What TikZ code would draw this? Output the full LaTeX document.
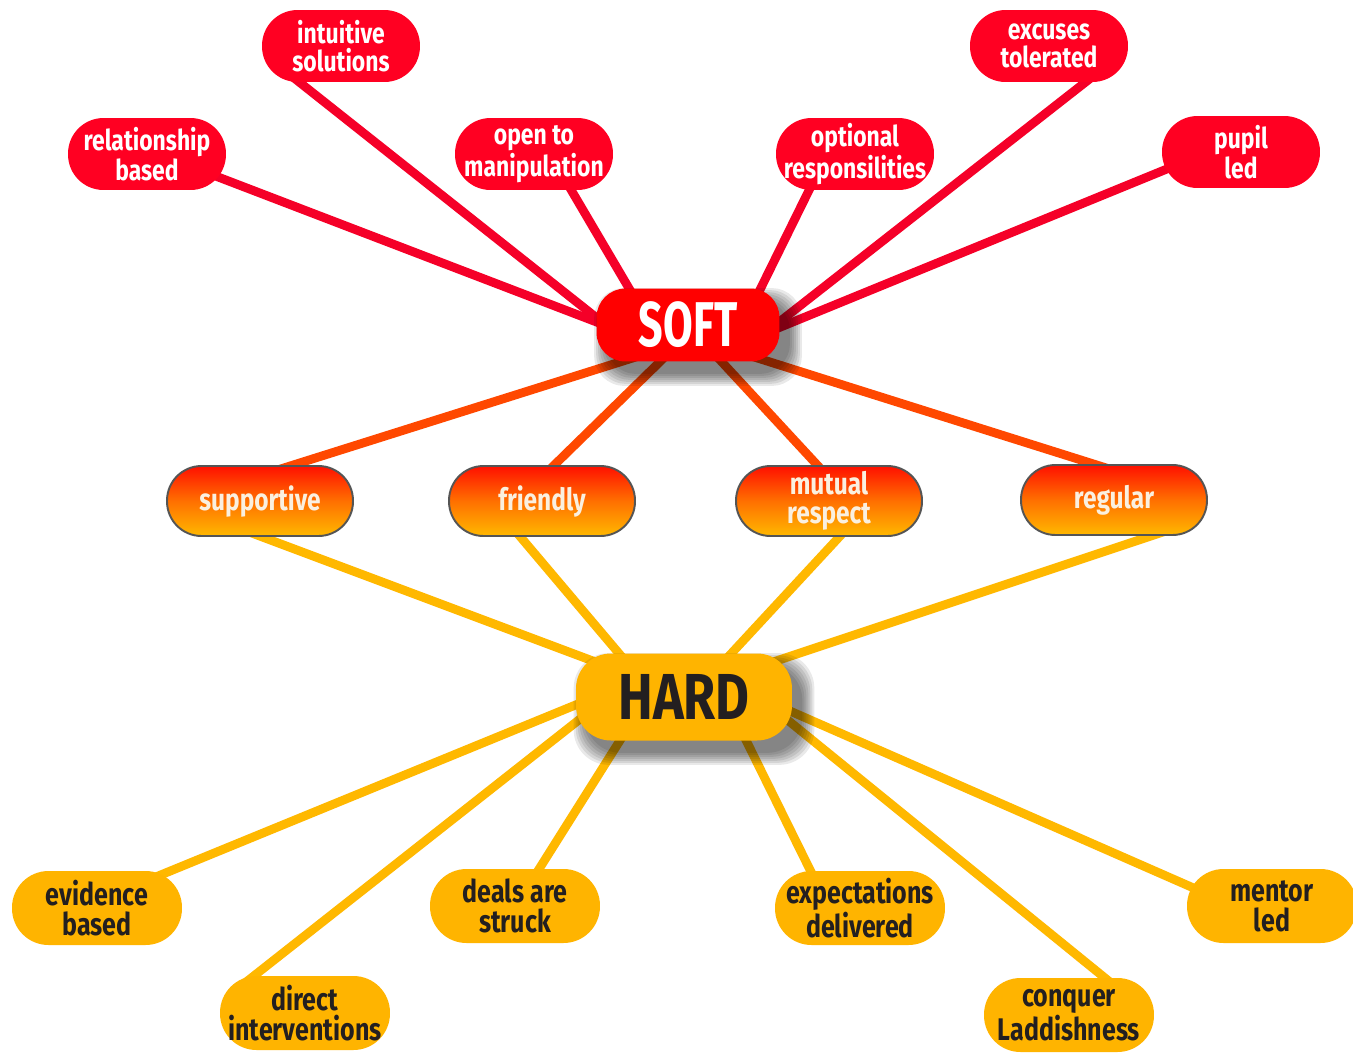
\documentclass[tikz,border=0pt]{standalone}
\usepackage{fontspec}
\setmainfont{Fira Sans}[FakeStretch=0.8]
\newfontfamily\narrowfont{Fira Sans}[FakeStretch=0.68]
\usetikzlibrary{calc}
\pgfdeclarelayer{background}
\pgfdeclarelayer{bottomlayer}
\pgfdeclarelayer{shadowlayer}
\pgfsetlayers{bottomlayer,background,shadowlayer,main}
\definecolor{leafred}{RGB}{255,0,34}
\definecolor{softred}{RGB}{255,0,0}
\definecolor{redline}{RGB}{245,0,40}
\definecolor{orangeline}{RGB}{255,72,0}
\definecolor{hardyellow}{RGB}{255,180,0}
\definecolor{yellowline}{RGB}{255,184,0}
\definecolor{darktext}{RGB}{35,31,32}
\definecolor{midtext}{RGB}{250,240,224}
\definecolor{midborder}{RGB}{85,85,85}
\definecolor{gradtop}{RGB}{255,16,0}
\definecolor{gradmid}{RGB}{255,112,0}
\definecolor{gradbot}{RGB}{255,184,0}
\begin{document}
\begin{tikzpicture}[x=0.02cm,y=-0.02cm,
  leaf/.style={rectangle, rounded corners=0.71cm, fill=leafred, text=white,
    minimum width=3.16cm, minimum height=1.44cm, inner sep=0pt, align=center,
    font=\bfseries\fontsize{16.3}{15.6}\selectfont},
  hubsoft/.style={rectangle, rounded corners=0.58cm, fill=softred, text=white,
    minimum width=3.66cm, minimum height=1.46cm, inner sep=0pt,
    font=\narrowfont\bfseries\fontsize{36}{40}\selectfont},
  hubhard/.style={rectangle, rounded corners=0.7cm, fill=hardyellow, text=darktext,
    minimum width=4.32cm, minimum height=1.74cm, inner sep=0pt,
    font=\bfseries\fontsize{37}{40}\selectfont},
  midnode/.style={rectangle, rounded corners=0.69cm, draw=midborder, line width=1.1pt,
    top color=gradtop, bottom color=gradbot, middle color=gradmid,
    text=midtext, minimum width=3.72cm, minimum height=1.4cm, inner sep=0pt, align=center,
    font=\bfseries\fontsize{17.4}{16.6}\selectfont},
  bottomleaf/.style={rectangle, rounded corners=0.73cm, fill=hardyellow, text=darktext,
    minimum width=3.4cm, minimum height=1.48cm, inner sep=0pt, align=center,
    font=\bfseries\fontsize{17.8}{17.2}\selectfont},
  redconn/.style={draw=redline, line width=5pt},
  orangeconn/.style={draw=orangeline, line width=5pt},
  yellowconn/.style={draw=yellowline, line width=5pt},
  shadowfill/.style={fill=black, fill opacity=0.085}
]
\begin{pgfonlayer}{bottomlayer}
\fill[white] (0,0) rectangle (1353,1052);
\end{pgfonlayer}
\useasboundingbox (0,0) rectangle (1353,1052);

% soft leaves
\node[leaf] (rel) at (147,154) {relationship\\based};
\node[leaf] (intu) at (341,46) {intuitive\\solutions};
\node[leaf] (open) at (534,154) {open to\\manipulation};
\node[leaf] (opt) at (855,154) {optional\\responsilities};
\node[leaf] (exc) at (1049,46) {excuses\\tolerated};
\node[leaf] (pupil) at (1241,152) {pupil\\led};

\node[hubsoft] (soft) at (688,325) {SOFT};

% middle
\node[midnode] (supp) at (260,501) {supportive};
\node[midnode] (friend) at (542,501) {friendly};
\node[midnode] (mutual) at (829,501) {mutual\\respect};
\node[midnode] (regular) at (1114,500) {regular};

\node[hubhard] (hard) at (684,697) {HARD};

% hard leaves
\node[bottomleaf] (evid) at (97,908) {evidence\\based};
\node[bottomleaf] (direct) at (305,1013) {direct\\interventions};
\node[bottomleaf] (deals) at (515,906) {deals are\\struck};
\node[bottomleaf] (expect) at (860,908) {expectations\\delivered};
\node[bottomleaf] (conquer) at (1069,1015) {conquer\\Laddishness};
\node[bottomleaf] (mentor) at (1272,906) {mentor\\led};

% soft shadows of the hubs
\begin{pgfonlayer}{shadowlayer}
\foreach \i in {0,2,...,12}{
  \fill[shadowfill, rounded corners=0.6cm]
    ([shift={(-2+\i,0+\i)}]soft.north west) rectangle ([shift={(22-\i,24-\i)}]soft.south east);
  \fill[shadowfill, rounded corners=0.7cm]
    ([shift={(-2+\i,0+\i)}]hard.north west) rectangle ([shift={(22-\i,24-\i)}]hard.south east);
}
\end{pgfonlayer}

\begin{pgfonlayer}{background}
% red connectors
\draw[redconn] ([shift={(45,13)}]rel.center) -- ([shift={(-68,6)}]soft.center);
\draw[redconn] ([shift={(-57,24)}]intu.center) -- ([shift={(-71,9)}]soft.center);
\draw[redconn] ([shift={(26,17)}]open.center) -- ([shift={(-48,-18)}]soft.center);
\draw[redconn] ([shift={(-36,16)}]opt.center) -- ([shift={(63,-17)}]soft.center);
\draw[redconn] ([shift={(52,24)}]exc.center) -- ([shift={(81,5)}]soft.center);
\draw[redconn] ([shift={(-57,10)}]pupil.center) -- ([shift={(78,8)}]soft.center);
% orange connectors
\draw[orangeconn] ([shift={(11,-29)}]supp.center) -- ([shift={(-49,31)}]soft.center);
\draw[orangeconn] ([shift={(-3,-21)}]friend.center) -- ([shift={(-14,23)}]soft.center);
\draw[orangeconn] ([shift={(3,-20)}]mutual.center) -- ([shift={(20,22)}]soft.center);
\draw[orangeconn] ([shift={(5,-28)}]regular.center) -- ([shift={(63,31)}]soft.center);
% yellow connectors
\draw[yellowconn] ([shift={(-19,28)}]supp.center) -- ([shift={(-75,-30)}]hard.center);
\draw[yellowconn] ([shift={(-35,20)}]friend.center) -- ([shift={(-51,-27)}]hard.center);
\draw[yellowconn] ([shift={(25,20)}]mutual.center) -- ([shift={(32,-27)}]hard.center);
\draw[yellowconn] ([shift={(55,30)}]regular.center) -- ([shift={(77,-31)}]hard.center);
\draw[yellowconn] ([shift={(44,-25)}]evid.center) -- ([shift={(-89,0)}]hard.center);
\draw[yellowconn] ([shift={(-69,-23)}]direct.center) -- ([shift={(-90,11)}]hard.center);
\draw[yellowconn] ([shift={(14,-21)}]deals.center) -- ([shift={(-53,26)}]hard.center);
\draw[yellowconn] ([shift={(-41,-20)}]expect.center) -- ([shift={(54,27)}]hard.center);
\draw[yellowconn] ([shift={(52,-24)}]conquer.center) -- ([shift={(90,12)}]hard.center);
\draw[yellowconn] ([shift={(-67,-13)}]mentor.center) -- ([shift={(90,7)}]hard.center);
\end{pgfonlayer}
\end{tikzpicture}
\end{document}
